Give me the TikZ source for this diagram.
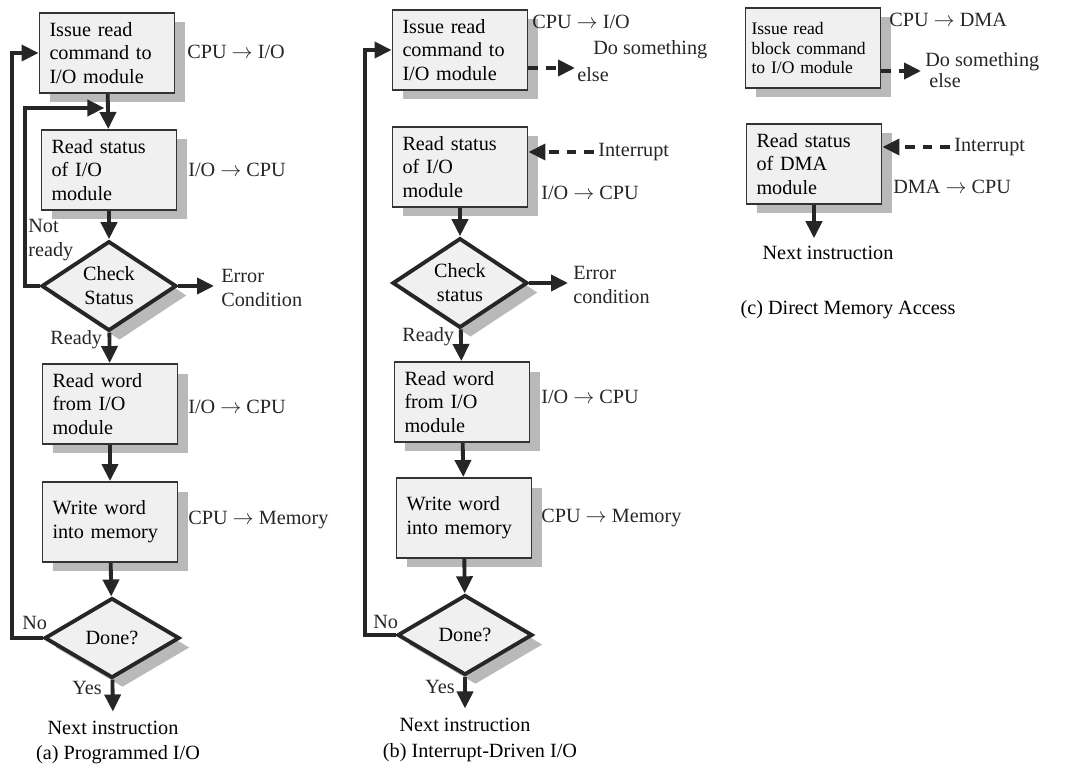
\documentclass[tikz,border=0pt]{standalone}
\usepackage{fontspec}
\setmainfont{Liberation Serif}
\usetikzlibrary{arrows.meta,shapes.geometric,shadows,positioning}

\tikzset{
  txt/.style={font=\fontsize{11.5}{13.6}\selectfont},
  shade box/.style={drop shadow={shadow xshift=0.21cm, shadow yshift=-0.19cm, fill=gray!55, opacity=1}},
  stepbox/.style={txt, shade box, draw=black!80, line width=1.1pt, fill=gray!12,
    minimum width=2.7cm, minimum height=1.6cm, text width=2.3cm, inner xsep=0.2cm, align=left},
  decision/.style={txt, shade box, diamond, draw=black!85, line width=2.2pt, fill=gray!12,
    minimum width=2.7cm, minimum height=1.6cm, inner sep=0pt, align=center},
  flow/.style={line width=2.2pt, draw=black!85, -{Triangle[length=3.4mm,width=3.2mm]}},
  dashflow/.style={flow, dash pattern=on 5.5pt off 4.5pt},
  lbl/.style={txt, text=black!85, inner sep=0pt, anchor=west, align=left},
}

\begin{document}
\begin{tikzpicture}[x=0.02cm, y=-0.02cm]
  \useasboundingbox (0,0) rectangle (1066,766);

  % (a) programmed I/O
  \node[stepbox] (a1) at (107,53) {Issue read\\command to\\I/O module};
  \node[stepbox] (a2) at (109,170) {Read status\\of I/O\\module};
  \node[decision] (ack) at (109,286) {Check\\Status};
  \node[stepbox] (a3) at (110,404) {Read word\\from I/O\\module};
  \node[stepbox] (a4) at (110,522) {Write word\\into memory};
  \node[decision] (adone) at (112,638) {Done?};
  \node[txt] (anext) at (113,728) {Next instruction};
  \node[txt] (acap) at (118,755) {(a) Programmed I/O};

  \draw[flow] (a1) -- (a2);
  \draw[flow] (a2) -- (ack);
  \draw[flow] (ack) -- (a3);
  \draw[flow] (a3) -- (a4);
  \draw[flow] (a4) -- (adone);
  \draw[flow, shorten >=2pt] (adone) -- (anext);
  \coordinate (aloop) at (12,0);
  \coordinate (anr) at (25,108);
  \coordinate (aerr) at (214,286);
  \draw[flow] (adone.west) -- (adone.west -| aloop) -- (aloop |- a1.west) -- (a1.west);
  \draw[flow, shorten >=1.5pt] (ack.west) -- (ack.west -| anr) -- (anr) -- (anr -| a1.south);
  \draw[flow] (ack.east) -- (aerr);

  \node[lbl] at (187,52) {CPU $\rightarrow$ I/O};
  \node[lbl] at (188,170) {I/O $\rightarrow$ CPU};
  \node[lbl] at (28,240) {Not\\ready};
  \node[lbl] at (221,288) {Error\\Condition};
  \node[lbl] at (50,340) {Ready};
  \node[lbl] at (188,407) {I/O $\rightarrow$ CPU};
  \node[lbl] at (188,520) {CPU $\rightarrow$ Memory};
  \node[lbl] at (22,623) {No};
  \node[lbl] at (72,688) {Yes};

  % (b) interrupt-driven I/O
  \node[stepbox] (b1) at (460,50) {Issue read\\command to\\I/O module};
  \node[stepbox] (b2) at (460,167) {Read status\\of I/O\\module};
  \node[decision] (bck) at (460,283) {Check\\status};
  \node[stepbox] (b3) at (462,402) {Read word\\from I/O\\module};
  \node[stepbox] (b4) at (464,518) {Write word\\into memory};
  \node[decision] (bdone) at (465,635) {Done?};
  \node[txt] (bnext) at (465,725) {Next instruction};
  \node[txt] (bcap) at (480,753) {(b) Interrupt-Driven I/O};

  \draw[flow] (b2) -- (bck);
  \draw[flow] (bck) -- (b3);
  \draw[flow] (b3) -- (b4);
  \draw[flow] (b4) -- (bdone);
  \draw[flow, shorten >=2pt] (bdone) -- (bnext);
  \coordinate (bloop) at (365,0);
  \coordinate (berr) at (568,283);
  \coordinate (bdo) at (575,68);
  \coordinate (bint) at (594,152);
  \draw[flow] (bdone.west) -- (bdone.west -| bloop) -- (bloop |- b1.west) -- (b1.west);
  \draw[flow] (bck.east) -- (berr);
  \draw[dashflow] (bdo -| b1.east) -- (bdo);
  \draw[dashflow] (bint) -- (bint -| b2.east);

  \node[lbl] at (532,22) {CPU $\rightarrow$ I/O};
  \node[lbl] at (593,50) {Do something};
  \node[lbl] at (577,75) {else};
  \node[lbl] at (598,152) {Interrupt};
  \node[lbl] at (541,193) {I/O $\rightarrow$ CPU};
  \node[lbl] at (573,285) {Error\\condition};
  \node[lbl] at (402,337) {Ready};
  \node[lbl] at (541,397) {I/O $\rightarrow$ CPU};
  \node[lbl] at (541,518) {CPU $\rightarrow$ Memory};
  \node[lbl] at (373,622) {No};
  \node[lbl] at (425,687) {Yes};

  % (c) direct memory access
  \node[stepbox, font=\fontsize{10}{11.2}\selectfont, text width=2.46cm, inner xsep=0.12cm] (c1) at (813,48) {Issue read\\block command\\to I/O module};
  \node[stepbox] (c2) at (814,164) {Read status\\of DMA\\module};
  \node[txt] (cnext) at (828,253) {Next instruction};
  \node[txt] (ccap) at (848,310) {(c) Direct Memory Access};

  \draw[flow, shorten >=1pt] (c2.south) -- (c2.south |- cnext.north);
  \coordinate (cdo) at (921,71);
  \coordinate (cint) at (950,147);
  \draw[dashflow] (cdo -| c1.east) -- (cdo);
  \draw[dashflow] (cint) -- (cint -| c2.east);

  \node[lbl] at (889,20) {CPU $\rightarrow$ DMA};
  \node[lbl] at (925,62) {Do something};
  \node[lbl] at (929,81) {else};
  \node[lbl] at (954,147) {Interrupt};
  \node[lbl] at (893,187) {DMA $\rightarrow$ CPU};
\end{tikzpicture}
\end{document}
